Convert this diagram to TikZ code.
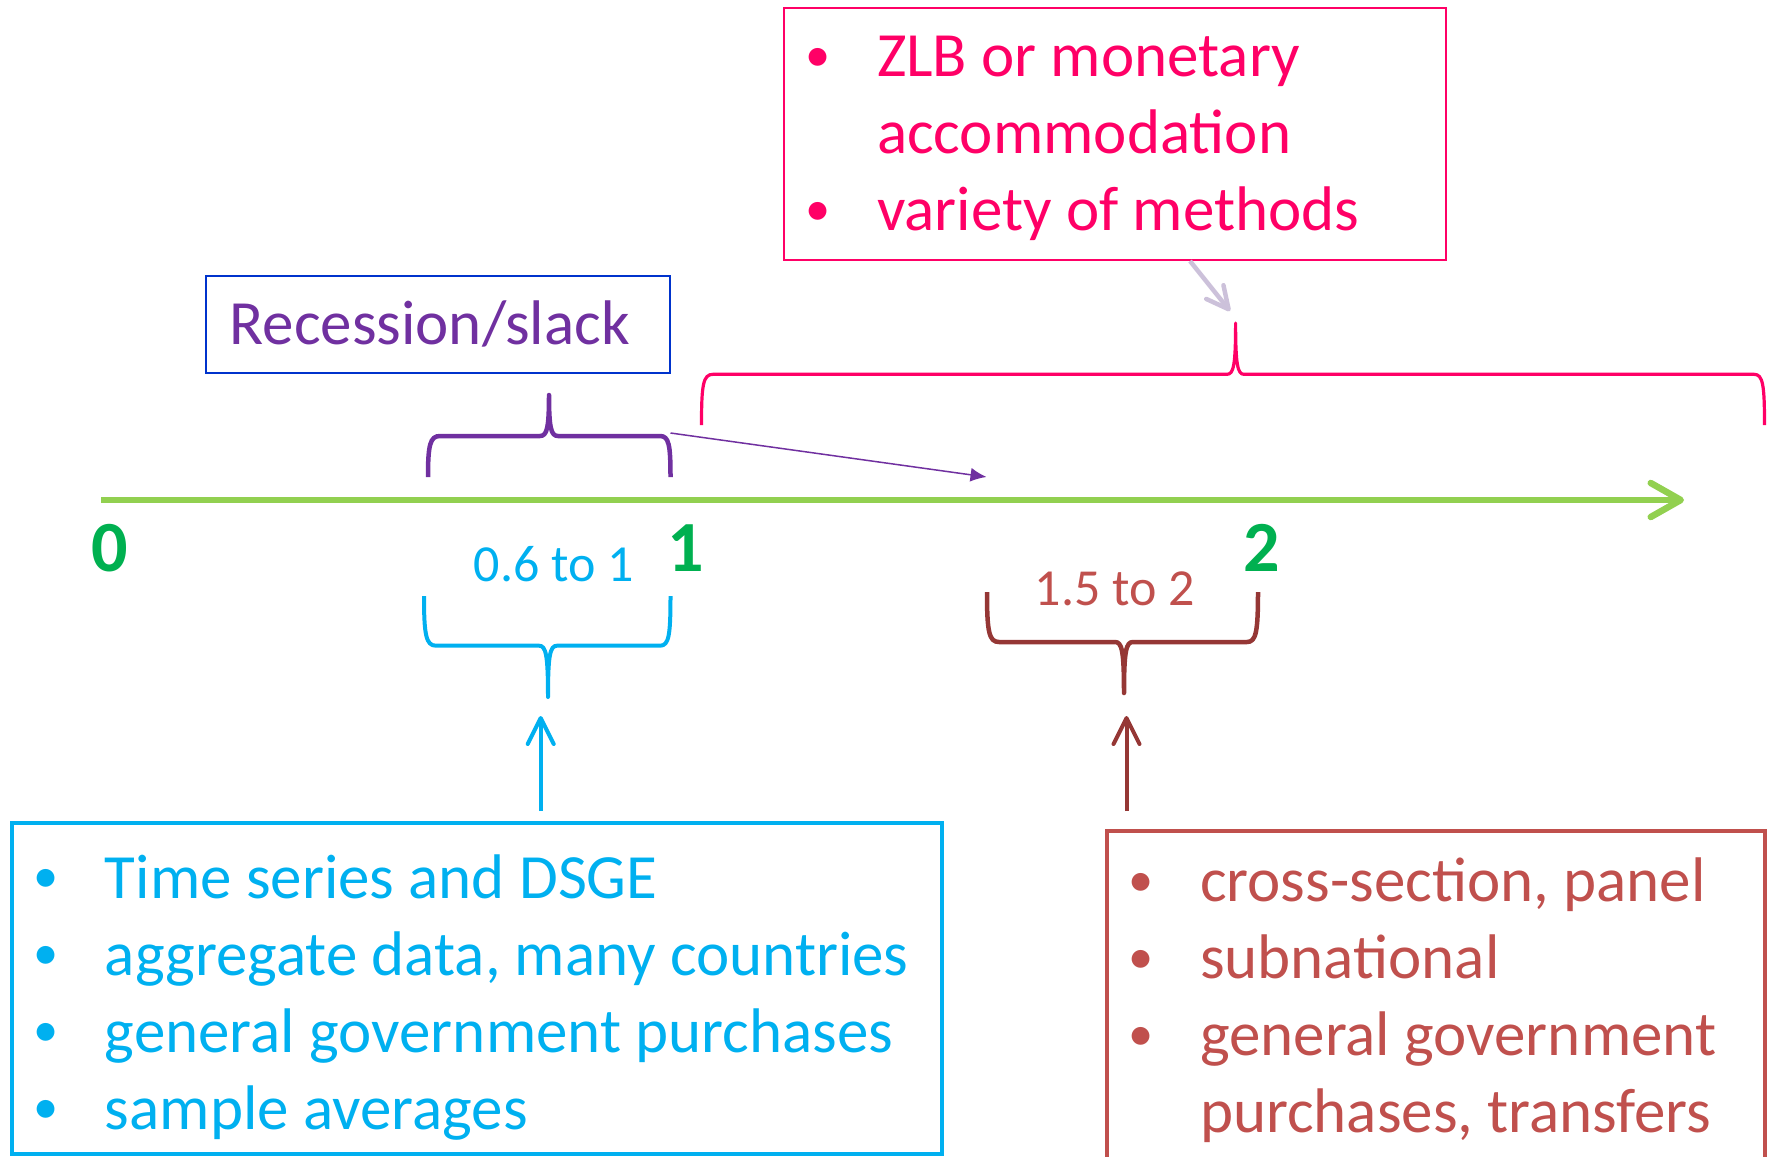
\documentclass[tikz,border=0pt]{standalone}
\usepackage{fontspec}
\setmainfont{Carlito}
\usetikzlibrary{arrows.meta}

\definecolor{axisgreen}{HTML}{92D050}
\definecolor{numgreen}{HTML}{00B050}
\definecolor{slackpurple}{HTML}{7030A0}
\definecolor{slackblue}{HTML}{0033CC}
\definecolor{lowblue}{HTML}{00B0F0}
\definecolor{highred}{HTML}{C0504D}
\definecolor{highbrown}{HTML}{953735}
\definecolor{zlbpink}{HTML}{FF0066}
\definecolor{zlblilac}{HTML}{CCC1DA}

\newcommand{\bul}{\hspace{2.5pt}\raisebox{0.09em}{\scalebox{0.8}{\textbullet}}}
\newcommand{\bulletlist}[3][0pt]{\makebox[#2][l]{\begin{tabular}{@{}p{38.5pt}@{}l@{}}\noalign{\vskip#1}#3\end{tabular}}}

\begin{document}
\begin{tikzpicture}[x=0.5pt, y=-0.5pt]
\tikzset{ inner sep=0pt, outer sep=0pt,
  bigtext/.style={font=\fontsize{31.5}{38.5}\selectfont},
  listbox/.style={bigtext, inner xsep=8pt, inner ysep=0pt, anchor=north west},
  numlabel/.style={font=\fontsize{36}{40}\selectfont\bfseries, text=numgreen, anchor=base},
  rangelabel/.style={font=\fontsize{26}{30}\selectfont, anchor=base},
  brace/.style={line width=2.25pt, line join=round},
  barb/.style={-{Straight Barb[length=#1,width=#1,round]}},
}
\useasboundingbox (0,0) rectangle (1768,1157);
%\draw [lightgray, dashed](0,0) grid[step=100] (1768,1157);

% axis
\coordinate (axisstart) at (101,500);
\coordinate (axisend)   at (1684,500);
\draw [axisgreen, line width=3.25pt, -{Straight Barb[length=15pt,width=17pt,round]}] (axisstart) -- (axisend);

\node [numlabel] (n0) at (110,571)  {0};
\node [numlabel] (n1) at (686,571)  {1};
\node [numlabel] (n2) at (1262,571) {2};

% boxes
\node [draw=zlbpink, line width=1pt, text=zlbpink, listbox, minimum width=331pt, minimum height=126pt] (zlbbox) at (784,8)
  {\bulletlist[4.5pt]{315pt}{\bul & ZLB or monetary\\ & accommodation\\ \bul & variety of methods}};

\node [draw=slackblue, line width=1pt, text=slackpurple, bigtext, inner xsep=12pt, minimum height=48.5pt, anchor=north west] (slackbox) at (205.5,275.7)
  {\makebox[208pt][l]{Recession/slack}};

\node [draw=lowblue, line width=2.25pt, text=lowblue, listbox, minimum width=465pt, minimum height=165.5pt] (lowbox) at (12,823)
  {\bulletlist[10pt]{449pt}{\bul & Time series and DSGE\\ \bul & aggregate data, many countries\\ \bul & general government purchases\\ \bul & sample averages}};

\node [draw=highred, line width=2.25pt, text=highred, listbox, inner ysep=7pt, minimum width=329pt] (highbox) at (1107,831)
  {\bulletlist[1.5pt]{313pt}{\bul & cross-section, panel\\ \bul & subnational\\ \bul & general government\\ & purchases, transfers}};

\node [rangelabel, text=lowblue] (lowrange)  at (554,581)    {0.6 to 1};
\node [rangelabel, text=highred] (highrange) at (1115,605.7) {1.5 to 2};

% braces
\coordinate (slacktip) at (549,395);
\coordinate (zlbtip)   at (1235.6,323);
\coordinate (lowtip)   at (548,697);
\coordinate (hightip)  at (1124,693);

\draw [brace, slackpurple] (428,477) .. controls (428,445) and (430,436) .. (440,436) -- (540,436)
  .. controls (547,436) and (549,428) .. (slacktip) .. controls (549,428) and (551,436) .. (558,436) -- (660,436)
  .. controls (669,436) and (670.5,445) .. (670.5,477);
\draw [brace, zlbpink, line width=1.6pt] (701.5,425) .. controls (701.5,385) and (703,374.3) .. (713,374.3) -- (1227,374.3)
  .. controls (1233.6,374.3) and (1235.6,365) .. (zlbtip) .. controls (1235.6,365) and (1237.6,374.3) .. (1244,374.3) -- (1754,374.3)
  .. controls (1763,374.3) and (1764.5,385) .. (1764.5,425);
\draw [brace, lowblue, line width=2pt] (424,596) .. controls (424,635) and (426,645.7) .. (436,645.7) -- (539,645.7)
  .. controls (546,645.7) and (548,655) .. (lowtip) .. controls (548,655) and (550,645.7) .. (557,645.7) -- (660,645.7)
  .. controls (669,645.7) and (670.5,635) .. (670.5,596);
\draw [brace, highbrown] (987,592) .. controls (987,632) and (989,642) .. (999,642) -- (1115,642)
  .. controls (1122,642) and (1124,651) .. (hightip) .. controls (1124,651) and (1126,642) .. (1133,642) -- (1247,642)
  .. controls (1256,642) and (1258,632) .. (1258,592);

% arrows
\coordinate (slackfrom) at (670.5,433);
\coordinate (slackto)   at (986.5,477);
\coordinate (zlbfrom)   at (1190,261);
\coordinate (zlbto)     at (1230,311);
\coordinate (lowfoot)   at (540.7,811);
\coordinate (lowhead)   at (540.7,716);
\coordinate (highfoot)  at (1126.5,811);
\coordinate (highhead)  at (1126.5,716);

\draw [slackpurple, line width=0.75pt, -{Latex[length=8pt,width=7pt]}] (slackfrom) -- (slackto);
\draw [zlblilac, line width=2.25pt, barb=11pt] (zlbfrom) -- (zlbto);
\draw [lowblue, line width=2pt, barb=13pt] (lowfoot) -- (lowhead);
\draw [highbrown, line width=2pt, barb=13pt] (highfoot) -- (highhead);

\end{tikzpicture}
\end{document}
